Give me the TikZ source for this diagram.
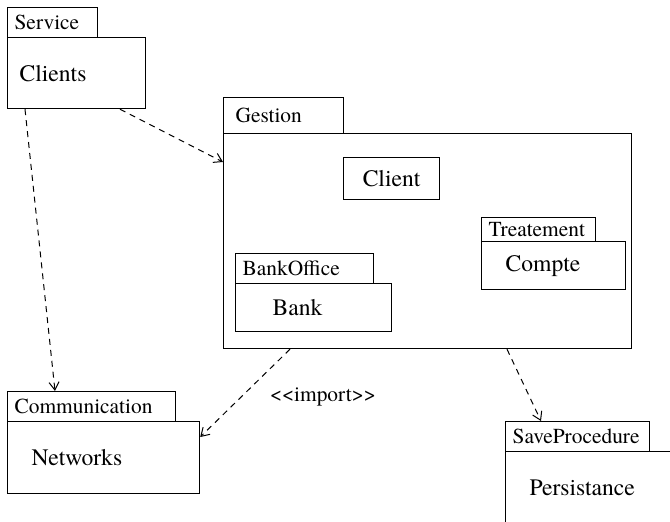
\documentclass[tikz,border=0pt]{standalone}
\usepackage{fontspec}
\setmainfont{TeX Gyre Termes}
\usetikzlibrary{arrows.meta}

\newcommand{\tabfont}{\fontsize{10.7}{12}\selectfont}
\newcommand{\bodyfont}{\fontsize{11.8}{14}\selectfont}

\begin{document}
\begin{tikzpicture}
            [x=0.5pt, y=-0.5pt, >={Straight Barb[length=4pt, width=5pt]}, line width=0.6pt,
             tab/.style={draw, anchor=north west, inner ysep=0pt, inner xsep=3.5pt, align=left, font=\tabfont, minimum height=15pt},
             body/.style={draw, anchor=north west, inner ysep=0pt, align=left, font=\bodyfont},
             dep/.style={->, dashed, dash pattern=on 3pt off 2.5pt, line width=0.5pt}]
            \useasboundingbox (0, 0) rectangle (670, 521);
            \clip (0, 0) rectangle (670, 521);

            \node[tab, text width=38pt] (service) at (7, 7) {Service};
            \node[body, text width=57pt, inner xsep=6pt, minimum height=35.5pt] (clients) at (7, 37) {Clients};

            \node[tab, text width=48pt, inner xsep=6pt, minimum height=18pt] (gestion) at (223, 97) {Gestion};
            \node[body, minimum width=204pt, minimum height=107.5pt] (gestionbody) at (223, 133) {};
            \node[body, align=center, minimum width=48pt, minimum height=21pt] (client) at (343, 157) {Client};
            \node[tab, text width=50pt, minimum height=12pt] (treatement) at (481, 217) {Treatement};
            \node[body, text width=48pt, inner xsep=12pt, minimum height=24pt] (compte) at (481, 241) {Compte};
            \node[tab, text width=62pt] (bankoffice) at (235, 253) {BankOffice};
            \node[body, text width=41pt, inner xsep=18.5pt, minimum height=24pt] (bank) at (235, 283) {Bank};

            \node[tab, text width=77pt] (communication) at (7, 391) {Communication};
            \node[body, text width=72pt, inner xsep=12pt, minimum height=36pt] (networks) at (7, 421) {Networks};

            \node[tab, text width=65pt] (saveproc) at (505, 421) {SaveProcedure};
            \node[body, text width=60pt, inner xsep=12pt, minimum height=36pt] (persistance) at (505, 451) {Persistance};

            \node[font=\tabfont] (importlbl) at (323, 397) {<{}<import>{}>};

            \draw[dep] ([xshift=9pt]clients.south west) -- ([xshift=24pt]communication.north west);
            \draw[dep] ([xshift=56.5pt]clients.south west) -- ([yshift=-14.5pt]gestionbody.north west);
            \draw[dep] ([xshift=33.5pt]gestionbody.south west) -- ([yshift=-8pt]networks.north east);
            \draw[dep] ([xshift=142pt]gestionbody.south west) -- ([xshift=18pt]saveproc.north west);
        \end{tikzpicture}
\end{document}
